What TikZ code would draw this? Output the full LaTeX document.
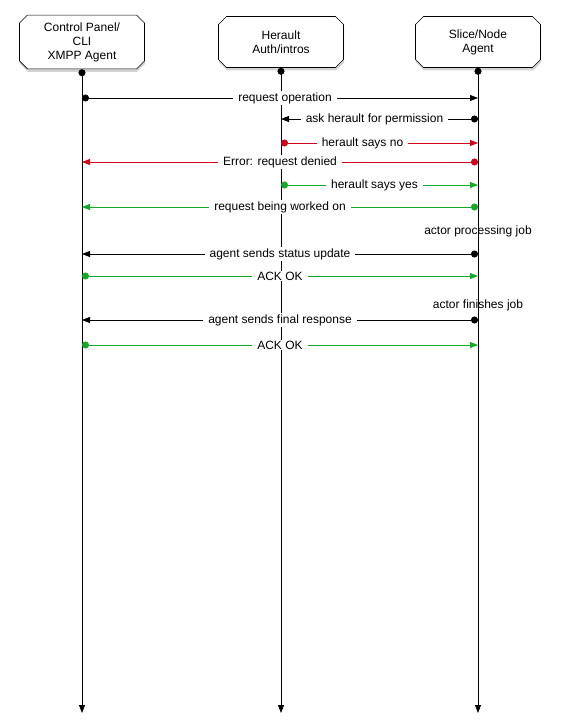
\documentclass[tikz,border=0pt]{standalone}
\usepackage{fontspec}
\setmainfont{Liberation Sans}
\usetikzlibrary{arrows.meta,shapes.misc,shadows}
\definecolor{nored}{RGB}{208,2,27}
\definecolor{okgreen}{RGB}{18,170,40}
\tikzset{
  actor/.style={chamfered rectangle, chamfered rectangle xsep=4pt,
    chamfered rectangle ysep=4pt, draw, fill=white, line width=0.6pt,
    minimum width=125pt, minimum height=51pt, align=center,
    drop shadow={shadow xshift=0.5pt, shadow yshift=-3pt, opacity=0.35}},
  lifeline/.style={line width=0.8pt, {Circle[length=7pt]}-{Triangle[length=8pt,width=6pt]}},
  msg/.style={line width=0.8pt, {Circle[length=7pt]}-{Triangle[length=8pt,width=6pt]}},
  lbl/.style={fill=white, inner xsep=5pt, inner ysep=1pt},
}
\begin{document}
\begin{tikzpicture}[x=1pt,y=-1pt,font=\fontsize{12}{14}\selectfont]
    \useasboundingbox (0,0) rectangle (560,727);
    % attori
    \node[actor] (cp) at (82,42) {Control Panel/\\CLI\\XMPP Agent};
    \node[actor] (ha) at (281,42) {Herault\\Auth/intros};
    \node[actor] (sn) at (478,42) {Slice/Node\\Agent};
    % linee di vita
    \coordinate (bot) at (0,713);
    \draw[lifeline] (cp.south) -- (cp |- bot);
    \draw[lifeline] (ha.south) -- (ha |- bot);
    \draw[lifeline] (sn.south) -- (sn |- bot);
    % righe dei messaggi
    \coordinate (r1) at (0,98);
    \coordinate (r2) at (0,119);
    \coordinate (r3) at (0,143);
    \coordinate (r4) at (0,162);
    \coordinate (r5) at (0,185);
    \coordinate (r6) at (0,207);
    \coordinate (r7) at (0,254);
    \coordinate (r8) at (0,276);
    \coordinate (r9) at (0,320);
    \coordinate (r10) at (0,345);
    % richiesta e permesso
    \draw[msg] (cp |- r1) -- node[lbl,xshift=5pt] (l1) {request operation} (sn |- r1);
    \draw[msg] (sn |- r2) -- node[lbl,xshift=-5pt] (l2) {ask herault for permission} (ha |- r2);
    \draw[msg,nored] (ha |- r3) -- node[lbl,text=black,xshift=-17pt] (l3) {herault says no} (sn |- r3);
    \draw[msg,nored] (sn |- r4) -- node[lbl,text=black] (l4) {Error: request denied} (cp |- r4);
    \draw[msg,okgreen] (ha |- r5) -- node[lbl,text=black,xshift=-5pt] (l5) {herault says yes} (sn |- r5);
    \draw[msg,okgreen] (sn |- r6) -- node[lbl,text=black] (l6) {request being worked on} (cp |- r6);
    % lavoro dell'attore
    \node (proc) at (478,231) {actor processing job};
    \draw[msg] (sn |- r7) -- node[lbl] (l7) {agent sends status update} (cp |- r7);
    \draw[msg,okgreen] (cp |- r8) -- node[lbl,text=black] (l8) {ACK OK} (sn |- r8);
    \node (fin) at (478,305) {actor finishes job};
    \draw[msg] (sn |- r9) -- node[lbl] (l9) {agent sends final response} (cp |- r9);
    \draw[msg,okgreen] (cp |- r10) -- node[lbl,text=black] (l10) {ACK OK} (sn |- r10);
\end{tikzpicture}
\end{document}
